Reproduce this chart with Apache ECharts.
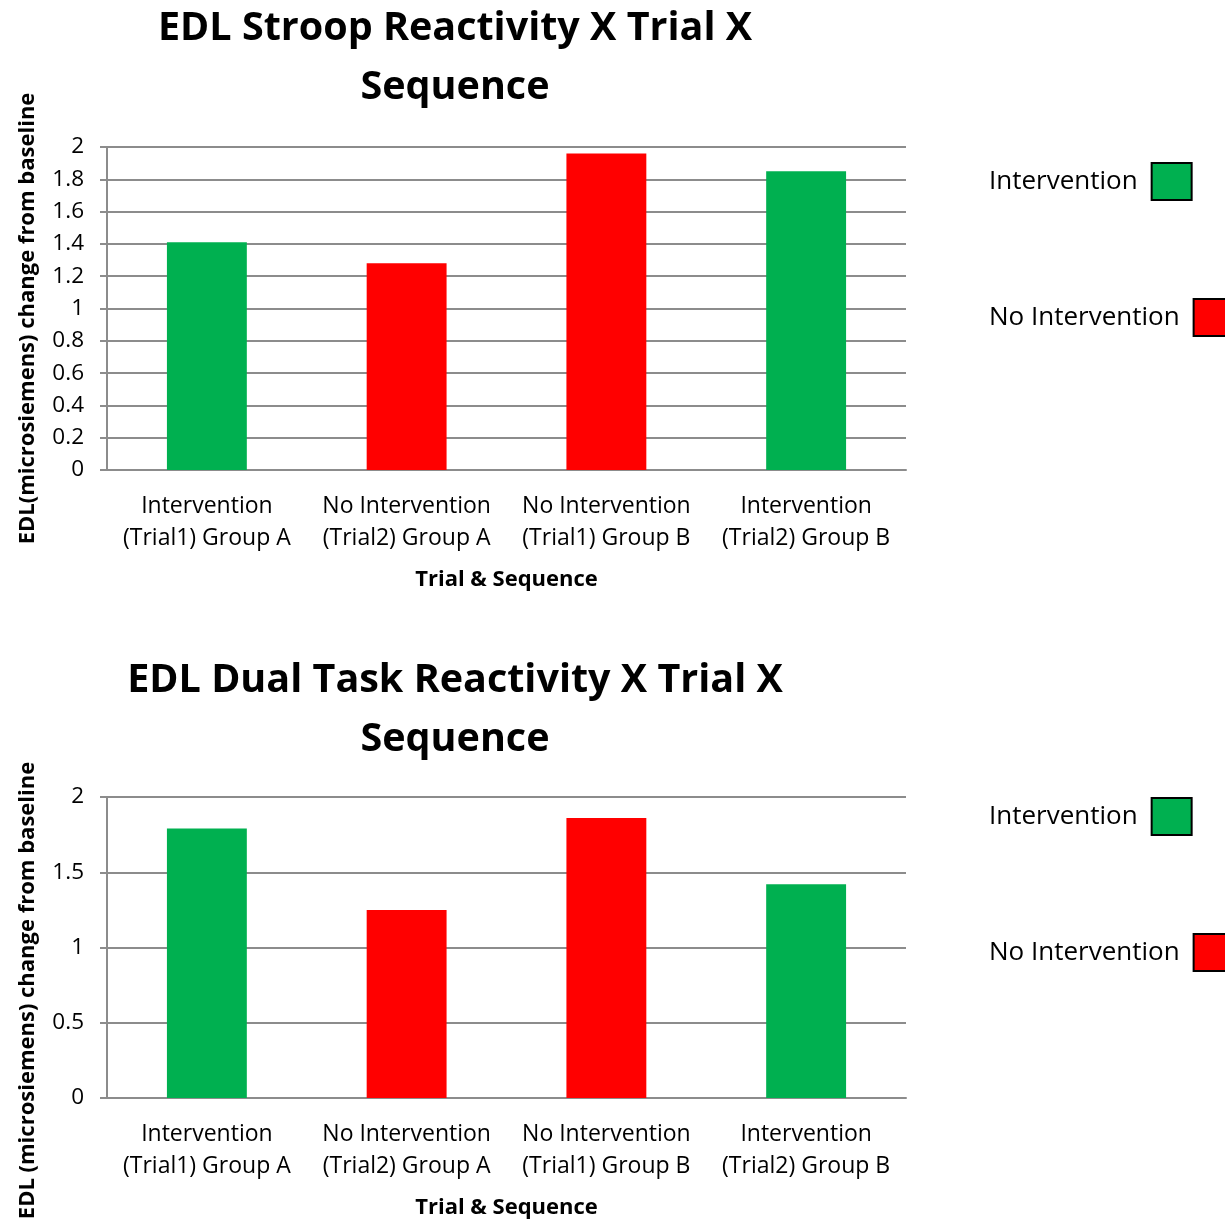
<!DOCTYPE html>
<html>
<head>
<meta charset="utf-8">
<script src="https://cdn.jsdelivr.net/npm/echarts@6/dist/echarts.min.js"></script>
<style>
  html, body { margin: 0; padding: 0; background: #fff; }
  #chart { width: 1225px; height: 1226px; }
</style>
</head>
<body>
<div id="chart"></div>
<script>
// Categories shared by both panels
const categories = [
  'Intervention\n(Trial1) Group A',
  'No Intervention\n(Trial2) Group A',
  'No Intervention\n(Trial1) Group B',
  'Intervention\n(Trial2) Group B'
];
// Which condition each category belongs to
const isIntervention = [true, false, false, true];

// EDL change from baseline, Stroop task
const stroopValues = [1.41, 1.28, 1.96, 1.85];
// EDL change from baseline, dual task
const dualValues = [1.79, 1.25, 1.86, 1.42];

const stroopTicks = { min: 0, max: 2, interval: 0.2 };
const dualTicks = { min: 0, max: 2, interval: 0.5 };

const GREEN = '#00b050';
const RED = '#ff0000';
const GRID_GRAY = '#8c8c8c';
const FONT = '"Open Sans", Lato, sans-serif';

function split(values, want) {
  return values.map((v, i) => (isIntervention[i] === want ? v : null));
}

const panels = [
  { title: 'EDL Stroop Reactivity X Trial X\nSequence', yName: 'EDL(microsiemens) change from baseline',
    values: stroopValues, ticks: stroopTicks, top: 147, height: 323, titleTop: -6,
    legendTops: [162, 298], yNameShift: 20 },
  { title: 'EDL Dual Task Reactivity X Trial X\nSequence', yName: 'EDL (microsiemens) change from baseline',
    values: dualValues, ticks: dualTicks, top: 797, height: 301, titleTop: 646,
    legendTops: [797, 933], yNameShift: 86 }
];

const legendItems = [
  { name: 'Intervention', color: GREEN },
  { name: 'No Intervention', color: RED }
];

const option = {
  animation: false,
  backgroundColor: '#fff',
  textStyle: { fontFamily: FONT },
  title: panels.map(p => ({
    text: p.title,
    left: 450,
    top: p.titleTop,
    textAlign: 'center',
    textStyle: { fontFamily: FONT, fontWeight: 'bold', fontSize: 39.5, lineHeight: 59, color: '#000' }
  })),
  // one legend per entry so each swatch sits right after its own label
  legend: panels.flatMap((p, i) => legendItems.map((it, k) => ({
    orient: 'horizontal',
    left: 989,
    top: p.legendTops[k],
    padding: 0,
    align: 'right',
    itemWidth: 40,
    itemHeight: 37,
    icon: 'rect',
    data: [{ name: it.name, itemStyle: { color: it.color, borderColor: '#000', borderWidth: 2 } }],
    seriesIndex: [i * 2 + k],
    textStyle: { fontFamily: FONT, fontSize: 26, color: '#000', padding: [0, 9, 0, 0] },
    selectedMode: false
  }))),
  grid: panels.map(p => ({ left: 107, top: p.top, width: 799, height: p.height })),
  xAxis: panels.map((p, i) => ({
    type: 'category',
    gridIndex: i,
    data: categories,
    name: 'Trial & Sequence',
    nameLocation: 'middle',
    nameGap: 99,
    nameTextStyle: { fontFamily: FONT, fontWeight: 'bold', fontSize: 22, color: '#000' },
    axisLine: { lineStyle: { color: GRID_GRAY, width: 2 } },
    axisTick: { show: false },
    axisLabel: { fontFamily: FONT, fontSize: 23, color: '#000', lineHeight: 32, margin: 20, interval: 0 }
  })),
  yAxis: panels.map((p, i) => ({
    type: 'value',
    gridIndex: i,
    min: p.ticks.min,
    max: p.ticks.max,
    interval: p.ticks.interval,
    name: p.yName,
    nameLocation: 'middle',
    nameGap: 68,
    nameTextStyle: { fontFamily: FONT, fontWeight: 'bold', fontSize: 22, color: '#000',
      padding: [0, p.yNameShift, 0, 0] },
    axisLine: { show: true, lineStyle: { color: GRID_GRAY, width: 2 } },
    axisTick: { show: true, length: 7, lineStyle: { color: GRID_GRAY, width: 2 } },
    axisLabel: { fontFamily: FONT, fontSize: 22.5, color: '#000', margin: 23 },
    splitLine: { lineStyle: { color: GRID_GRAY, width: 2 } }
  })),
  series: panels.flatMap((p, i) => [
    { name: 'Intervention', type: 'bar', xAxisIndex: i, yAxisIndex: i,
      data: split(p.values, true), barWidth: '40%', barGap: '-100%',
      itemStyle: { color: GREEN } },
    { name: 'No Intervention', type: 'bar', xAxisIndex: i, yAxisIndex: i,
      data: split(p.values, false), barWidth: '40%', barGap: '-100%',
      itemStyle: { color: RED } }
  ])
};

echarts.init(document.getElementById('chart'), null, { renderer: 'canvas' }).setOption(option);
</script>
</body>
</html>
